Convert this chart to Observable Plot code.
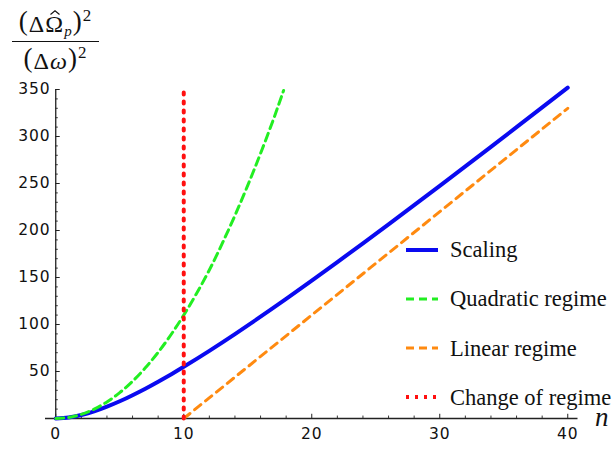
<!DOCTYPE html>
<html><head><meta charset="utf-8">
<script src="https://cdn.jsdelivr.net/npm/d3@7"></script>
<script src="https://cdn.jsdelivr.net/npm/@observablehq/plot@0.6"></script>
<style>
body{margin:0;background:#fff;}
#wrap{position:relative;width:612px;height:452px;overflow:hidden;background:#fff;}
#wrap svg.plot{position:absolute;left:0;top:0;}
.serif{font-family:"Liberation Serif","DejaVu Serif",serif;}
.ylab{position:absolute;left:12px;width:87px;font-size:24px;line-height:24px;color:#111;text-align:center;letter-spacing:1px;white-space:nowrap;}
.ylab .p{font-size:27px;line-height:0;vertical-align:2px;}
.ylab sup{font-size:17px;line-height:0;vertical-align:11px;}
.ylab sub{font-size:15px;line-height:0;vertical-align:-4px;font-style:italic;}
.ylab i{font-style:italic;}
.ylab .hat{position:relative;display:inline-block;}
.ylab .hat svg{position:absolute;left:50%;margin-left:-6px;top:-2px;}
.bar{position:absolute;left:12px;top:41px;width:87px;height:1.2px;background:#111;}
.nlab{position:absolute;left:595px;top:410px;font-style:italic;font-size:27px;line-height:14px;color:#111;}
.legend{position:absolute;left:404px;top:236px;font-size:22.5px;color:#111;}
.legend .row{position:absolute;left:0;height:30px;white-space:nowrap;}
.legend .row svg{position:absolute;left:0;top:0;}
.legend .row span{position:absolute;left:46px;top:3.4px;line-height:22px;}
</style></head><body><div id="wrap"></div>
<script>
// Scaling curve (blue)
const nScaling = [0,1,2,3,4,5,6,7,8,9,10,12,14,16,18,20,22,24,26,28,30,32,34,36,38,40];
const scalingVals = [0,1,3.7,7.6,12.6,18.3,24.8,31.7,39.1,46.9,55,72,89.8,108.3,127.3,146.7,166.4,186.4,206.6,227,247.5,268.2,289,309.9,330.9,352];
// Quadratic regime (green dashed)
const nQuad = [0,1,2,3,4,5,6,7,8,9,10,11,12,13,14,15,16,17,17.8];
const quadVals = [0,1.1,4.4,9.9,17.6,27.5,39.6,53.9,70.4,89.1,110,133,158,186,216,248,282,318,349];
// Linear regime (orange dashed)
const nLin = [10,40];
const linVals = [0,330];
// Change of regime (red dotted)
const nChange = [10,10];
const changeVals = [0,350];
// Ticks
const xMajor = [0,10,20,30,40];
const xMinor = [2,4,6,8,12,14,16,18,22,24,26,28,32,34,36,38];
const yMajor = [50,100,150,200,250,300,350];
const yMinor = [10,20,30,40,60,70,80,90,110,120,130,140,160,170,180,190,210,220,230,240,260,270,280,290,310,320,330,340];
const legendLabels = ["Scaling","Quadratic regime","Linear regime","Change of regime"];
const hatSvg = '<svg width="12" height="5"><polyline points="1.5,4.5 6,0.8 10.5,4.5" fill="none" stroke="#111" stroke-width="1.1"/></svg>';
const yLabelNum = '<span class="p">(</span>Δ<span class="hat">Ω' + hatSvg + '</span><sub>p</sub><span class="p">)</span><sup>2</sup>';
const yLabelDen = '<span class="p">(</span>Δ<i>ω</i><span class="p">)</span><sup>2</sup>';
const xLabel = "n";

const toPts = (xs, ys) => xs.map((x, i) => ({x, y: ys[i]}));

const axisColor = "#222";
const chart = Plot.plot({
  width: 612, height: 452,
  marginLeft: 45, marginRight: 34.5, marginTop: 89, marginBottom: 34,
  x: {domain: [-0.8, 40.8], axis: null},
  y: {domain: [0, 350], axis: null},
  style: {background: "transparent", fontFamily: "DejaVu Sans, sans-serif"},
  marks: [
    Plot.ruleY([0], {x1: -0.8, x2: 40.8, stroke: axisColor, strokeWidth: 1.3}),
    Plot.ruleX([0], {y1: 0, y2: 350, stroke: axisColor, strokeWidth: 1.3}),
    Plot.ruleX(xMinor, {y1: 0, y2: 2.6, stroke: axisColor, strokeWidth: 0.9}),
    Plot.ruleX(xMajor, {y1: 0, y2: 4.5, stroke: axisColor, strokeWidth: 1}),
    Plot.ruleY(yMinor, {x1: 0, x2: 0.2, stroke: axisColor, strokeWidth: 0.9}),
    Plot.ruleY(yMajor, {x1: 0, x2: 0.35, stroke: axisColor, strokeWidth: 1}),
    Plot.text(xMajor, {x: d => d, y: 0, dy: 16, text: d => String(d), fontSize: 15.5, fill: "#111", textAnchor: "middle"}),
    Plot.text(yMajor, {x: 0, y: d => d, dx: -5, text: d => String(d), fontSize: 15.5, fill: "#111", textAnchor: "end"}),
    Plot.line(toPts(nScaling, scalingVals), {x: "x", y: "y", stroke: "#0a0af0", strokeWidth: 4, curve: "natural"}),
    Plot.line(toPts(nQuad, quadVals), {x: "x", y: "y", stroke: "#22ee22", strokeWidth: 3, strokeDasharray: "8,5", curve: "natural"}),
    Plot.line(toPts(nLin, linVals), {x: "x", y: "y", stroke: "#ff8a10", strokeWidth: 3, strokeDasharray: "8,6"}),
    Plot.line(toPts(nChange, changeVals), {x: "x", y: "y", stroke: "#ff1010", strokeWidth: 4, strokeDasharray: "2,7"})
  ]
});
chart.classList.add("plot");
chart.querySelectorAll("text").forEach(t => t.setAttribute("letter-spacing", "1"));
const wrap = document.getElementById("wrap");
wrap.appendChild(chart);

const num = document.createElement("div");
num.className = "ylab serif";
num.style.top = "12px";
num.innerHTML = yLabelNum;
wrap.appendChild(num);
const bar = document.createElement("div");
bar.className = "bar";
wrap.appendChild(bar);
const den = document.createElement("div");
den.className = "ylab serif";
den.style.top = "49px";
den.innerHTML = yLabelDen;
wrap.appendChild(den);

const nl = document.createElement("div");
nl.className = "nlab serif";
nl.textContent = xLabel;
wrap.appendChild(nl);

const legendStyles = [
  {stroke: "#0a0af0", w: 4, dash: ""},
  {stroke: "#22ee22", w: 3, dash: "8,5"},
  {stroke: "#ff8a10", w: 3, dash: "8,5"},
  {stroke: "#ff1010", w: 4, dash: "3,6"}
];
const lg = document.createElement("div");
lg.className = "legend serif";
legendLabels.forEach((lab, i) => {
  const row = document.createElement("div");
  row.className = "row";
  row.style.top = (i * 49.1) + "px";
  const s = legendStyles[i];
  row.innerHTML = `<svg width="40" height="30"><line x1="2" x2="34" y1="14" y2="14" stroke="${s.stroke}" stroke-width="${s.w}" stroke-dasharray="${s.dash}"/></svg><span>${lab}</span>`;
  lg.appendChild(row);
});
wrap.appendChild(lg);
</script>
</body></html>
